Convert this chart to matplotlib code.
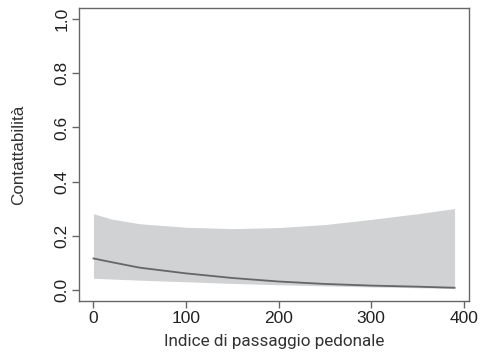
import matplotlib
matplotlib.use("Agg")
import matplotlib.pyplot as plt
import numpy as np

x = [0, 20, 50, 100, 150, 200, 250, 300, 350, 390]
fit = [0.117, 0.103, 0.083, 0.062, 0.045, 0.032, 0.023, 0.017, 0.013, 0.009]
upper = [0.282, 0.262, 0.245, 0.232, 0.227, 0.231, 0.242, 0.261, 0.282, 0.301]
lower = [0.044, 0.041, 0.037, 0.031, 0.025, 0.020, 0.016, 0.012, 0.009, 0.006]
xticks = [0, 100, 200, 300, 400]
yticks = [0.0, 0.2, 0.4, 0.6, 0.8, 1.0]

fig = plt.figure(figsize=(4.85, 3.55), dpi=100)
ax = fig.add_axes([0.163, 0.152, 0.804, 0.825])
ax.fill_between(x, lower, upper, color="#d1d2d4", linewidth=0)
ax.plot(x, fit, color="#666666", linewidth=1.3)
ax.set_xlim(-15.6, 405.6)
ax.set_ylim(-0.04, 1.04)
ax.set_xticks(xticks)
ax.set_yticks(yticks)
ax.set_xticklabels([str(t) for t in xticks], fontsize=12.5, family="Liberation Sans", color="#222222")
ax.set_yticklabels([f"{t:.1f}" for t in yticks], fontsize=12.5, family="Liberation Sans", rotation=90, va="center", color="#222222")
for s in ax.spines.values():
    s.set_color("#666666")
    s.set_linewidth(1.0)
ax.tick_params(axis="both", direction="out", length=5, width=1.0, color="#666666", pad=2)
ax.set_xlabel("Indice di passaggio pedonale", fontsize=12.3, family="Roboto", color="#333333", labelpad=6)
ax.set_ylabel("Contattabilità", fontsize=12.3, family="Liberation Sans", color="#333333", labelpad=20)
fig.savefig("out.png", dpi=100)
